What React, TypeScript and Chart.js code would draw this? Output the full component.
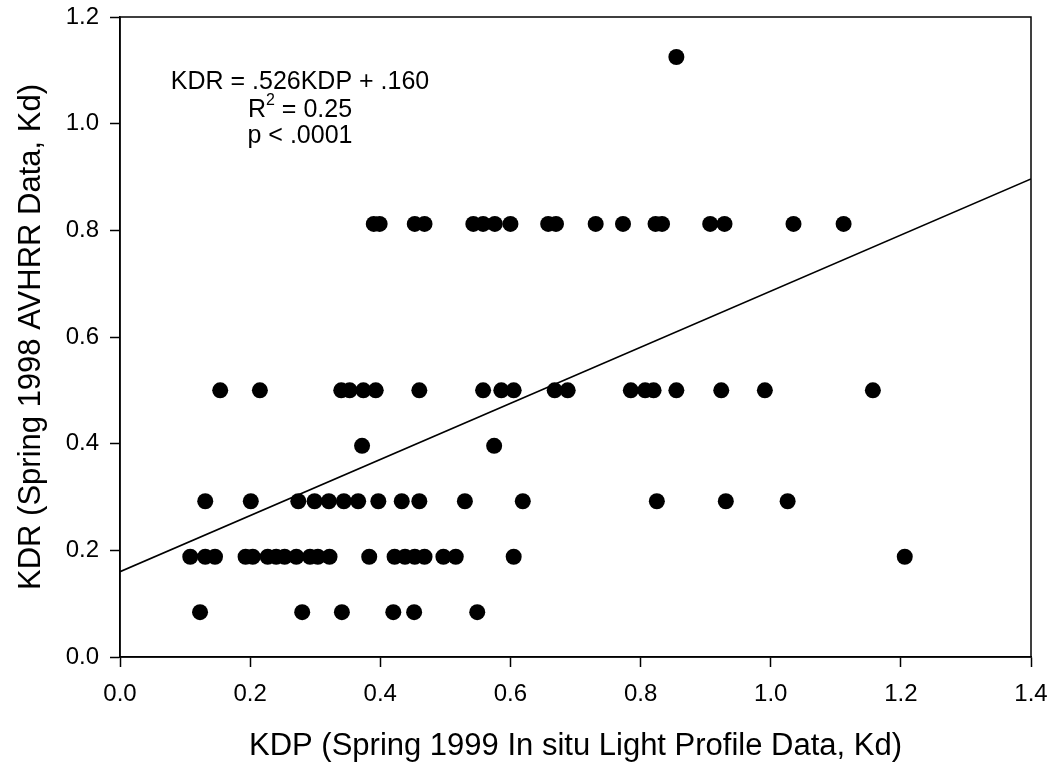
import React, { useEffect, useRef } from "react";
import { Chart, registerables } from "chart.js";

Chart.register(...registerables);

// KDR levels (y values) shared by the rows of points
const kdrLevels = [0.084, 0.188, 0.292, 0.396, 0.5, 0.812, 1.125];

// KDP values (x) for each KDR level
const kdpLevel1 = [0.123, 0.28, 0.341, 0.42, 0.452, 0.549];
const kdpLevel2 = [
  0.108, 0.131, 0.146, 0.193, 0.204, 0.227, 0.24, 0.253, 0.271, 0.292, 0.304,
  0.322, 0.383, 0.422, 0.438, 0.453, 0.468, 0.497, 0.516, 0.605, 1.206,
];
const kdpLevel3 = [
  0.131, 0.201, 0.274, 0.299, 0.321, 0.344, 0.366, 0.397, 0.433, 0.46, 0.53,
  0.619, 0.825, 0.931, 1.026,
];
const kdpLevel4 = [0.372, 0.575];
const kdpLevel5 = [
  0.154, 0.215, 0.34, 0.353, 0.374, 0.393, 0.46, 0.558, 0.586, 0.605, 0.668,
  0.688, 0.785, 0.807, 0.82, 0.855, 0.924, 0.991, 1.157,
];
const kdpLevel6 = [
  0.39, 0.399, 0.453, 0.468, 0.543, 0.558, 0.576, 0.6, 0.658, 0.67, 0.731,
  0.773, 0.823, 0.833, 0.907, 0.929, 1.035, 1.112,
];
const kdpLevel7 = [0.855];

// Regression: KDR = .526 KDP + .160
const fitSlope = 0.526;
const fitIntercept = 0.16;
const fitRange = [0, 1.4];

const xTicks = [0, 0.2, 0.4, 0.6, 0.8, 1.0, 1.2, 1.4];
const yTicks = [0, 0.2, 0.4, 0.6, 0.8, 1.0, 1.2];

const eqLine1 = "KDR = .526KDP + .160";
const eqLine2Base = "R";
const eqLine2Sup = "2";
const eqLine2Rest = " = 0.25";
const eqLine3 = "p < .0001";

const xTitle = "KDP (Spring 1999 In situ Light Profile Data, Kd)";
const yTitle = "KDR (Spring 1998 AVHRR Data, Kd)";

const FONT = 'Arial, "Liberation Sans", sans-serif';

const framePlugin = {
  id: "frame",
  afterDraw(chart: any) {
    const { ctx, chartArea } = chart;
    ctx.save();
    ctx.strokeStyle = "#000";
    ctx.lineWidth = 1.5;
    ctx.strokeRect(
      chartArea.left,
      chartArea.top,
      chartArea.right - chartArea.left,
      chartArea.bottom - chartArea.top
    );
    ctx.restore();
  },
};

const equationPlugin = {
  id: "equation",
  afterDraw(chart: any) {
    const { ctx } = chart;
    const cx = 300;
    ctx.save();
    ctx.fillStyle = "#000";
    ctx.textBaseline = "middle";
    ctx.font = `25px ${FONT}`;
    ctx.textAlign = "center";
    ctx.fillText(eqLine1, cx, 82);
    ctx.fillText(eqLine3, cx, 136);
    // R^2 line
    ctx.textAlign = "left";
    const wR = ctx.measureText(eqLine2Base).width;
    const wRest = ctx.measureText(eqLine2Rest).width;
    ctx.font = `16px ${FONT}`;
    const wSup = ctx.measureText(eqLine2Sup).width;
    const total = wR + wSup + wRest;
    let x = cx - total / 2;
    ctx.font = `25px ${FONT}`;
    ctx.fillText(eqLine2Base, x, 110);
    x += wR;
    ctx.font = `16px ${FONT}`;
    ctx.fillText(eqLine2Sup, x, 101);
    x += wSup;
    ctx.font = `25px ${FONT}`;
    ctx.fillText(eqLine2Rest, x, 110);
    ctx.restore();
  },
};

function buildPoints() {
  const rows = [
    kdpLevel1,
    kdpLevel2,
    kdpLevel3,
    kdpLevel4,
    kdpLevel5,
    kdpLevel6,
    kdpLevel7,
  ];
  const pts: { x: number; y: number }[] = [];
  rows.forEach((row, i) => {
    row.forEach((v) => pts.push({ x: v, y: kdrLevels[i] }));
  });
  return pts;
}

export default function App() {
  const canvasRef = useRef<HTMLCanvasElement | null>(null);

  useEffect(() => {
    if (!canvasRef.current) return;
    const fitPoints = fitRange.map((x) => ({ x, y: fitSlope * x + fitIntercept }));
    const chart = new Chart(canvasRef.current, {
      type: "scatter",
      data: {
        datasets: [
          {
            type: "line",
            data: fitPoints,
            borderColor: "#000",
            borderWidth: 1.6,
            pointRadius: 0,
            fill: false,
            order: 2,
          } as any,
          {
            data: buildPoints(),
            backgroundColor: "#000",
            borderColor: "#000",
            borderWidth: 0,
            pointRadius: 8,
            order: 1,
          },
        ],
      },
      options: {
        responsive: false,
        animation: false,
        devicePixelRatio: 1,
        layout: { padding: { top: 17, right: 25, left: 0, bottom: 0 } },
        plugins: {
          legend: { display: false },
          tooltip: { enabled: false },
        },
        scales: {
          x: {
            type: "linear",
            min: 0,
            max: 1.4,
            afterBuildTicks: (scale: any) => {
              scale.ticks = xTicks.map((v) => ({ value: v }));
            },
            afterFit: (scale: any) => {
              scale.height = 111;
              scale.paddingLeft = 0;
              scale.paddingRight = 0;
            },
            ticks: {
              color: "#000",
              font: { family: FONT, size: 24 },
              padding: 13,
              callback: (v: any) => Number(v).toFixed(1),
            },
            grid: {
              drawOnChartArea: false,
              drawTicks: true,
              tickLength: 10,
              tickWidth: 1.5,
              tickColor: "#000",
            },
            border: { display: true, color: "#000", width: 1.5 },
            title: {
              display: true,
              text: xTitle,
              color: "#000",
              font: { family: FONT, size: 31 },
              padding: { top: 0, bottom: 3 },
            },
          },
          y: {
            type: "linear",
            min: 0,
            max: 1.2,
            afterBuildTicks: (scale: any) => {
              scale.ticks = yTicks.map((v) => ({ value: v }));
            },
            afterFit: (scale: any) => {
              scale.width = 120;
              scale.paddingTop = 0;
              scale.paddingBottom = 0;
            },
            ticks: {
              color: "#000",
              font: { family: FONT, size: 24 },
              padding: 11,
              callback: (v: any) => Number(v).toFixed(1),
            },
            grid: {
              drawOnChartArea: false,
              drawTicks: true,
              tickLength: 10,
              tickWidth: 1.5,
              tickColor: "#000",
            },
            border: { display: true, color: "#000", width: 1.5 },
            title: {
              display: true,
              text: yTitle,
              color: "#000",
              font: { family: FONT, size: 31 },
              padding: { top: 13, bottom: 0 },
            },
          },
        },
      },
      plugins: [framePlugin, equationPlugin],
    });
    return () => chart.destroy();
  }, []);

  return (
    <div
      style={{
        position: "fixed",
        left: 0,
        top: 0,
        width: 1056,
        height: 768,
        background: "#fff",
      }}
    >
      <canvas ref={canvasRef} width={1056} height={768} />
    </div>
  );
}
